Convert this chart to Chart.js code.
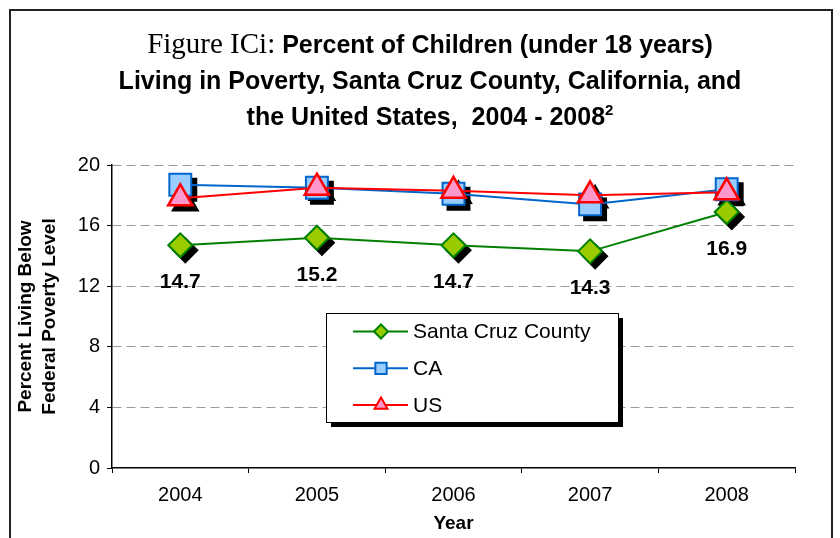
<!DOCTYPE html>
<html lang="en">
<head>
    <meta charset="UTF-8">
    <title>Figure ICi - Children in Poverty</title>
    <script src="https://cdn.jsdelivr.net/npm/chart.js"></script>
    <style>
        body {
            margin: 0;
            background: white;
            font-family: 'Liberation Sans', Arial, sans-serif;
        }
        .wrap {
            position: relative;
            width: 840px;
            height: 538px;
            overflow: hidden;
        }
        .frame {
            position: absolute;
            left: 9px;
            top: 9px;
            width: 820px;
            height: 600px;
            border: 2px solid #222;
            pointer-events: none;
        }
        .title {
            position: absolute;
            left: 20px;
            top: 25px;
            width: 820px;
            text-align: center;
            font-size: 25px;
            font-weight: bold;
            line-height: 36px;
            color: #000;
        }
        .title .serif {
            font-family: 'Liberation Serif', serif;
            font-weight: normal;
            font-size: 29px;
        }
        .title sup {
            font-size: 15px;
            line-height: 0;
            vertical-align: 10px;
        }
        canvas {
            position: absolute;
            left: 0;
            top: 0;
        }
    </style>
</head>
<body>
    <div class="wrap">
        <canvas id="povertyChart" width="840" height="538"></canvas>
        <div class="title">
            <span class="serif">Figure ICi:</span> Percent of Children (under 18 years)<br>
            Living in Poverty, Santa Cruz County, California, and<br>
            the United States,&nbsp; 2004 - 2008<sup>2</sup>
        </div>
        <div class="frame"></div>
    </div>

    <script>
        // data
        const years = ['2004', '2005', '2006', '2007', '2008'];
        const santaCruz = [14.7, 15.2, 14.7, 14.3, 16.9];
        const california = [18.7, 18.5, 18.1, 17.4, 18.4];
        const unitedStates = [17.8, 18.5, 18.3, 18.0, 18.2];
        const yTicks = [0, 4, 8, 12, 16, 20];

        Chart.defaults.font.family = "'Liberation Sans', Arial, sans-serif";
        Chart.defaults.color = '#000';

        // black drop shadows under the markers, drawn before any dataset
        const markerShadows = {
            id: 'markerShadows',
            beforeDatasetsDraw(chart) {
                const ctx = chart.ctx;
                ctx.save();
                chart.data.datasets.forEach((ds, i) => {
                    const meta = chart.getDatasetMeta(i);
                    ctx.fillStyle = '#000';
                    ctx.strokeStyle = '#000';
                    ctx.lineWidth = ds.pointBorderWidth;
                    meta.data.forEach(pt => {
                        Chart.helpers.drawPoint(ctx, {
                            pointStyle: ds.pointStyle,
                            radius: ds.pointRadius,
                            rotation: 0,
                            borderWidth: ds.pointBorderWidth
                        }, pt.x + 5, pt.y + 5);
                    });
                });
                ctx.restore();
            }
        };

        // value labels under the Santa Cruz points
        const valueLabels = {
            id: 'valueLabels',
            afterDatasetsDraw(chart) {
                const ctx = chart.ctx;
                const idx = chart.data.datasets.findIndex(d => d.label === 'Santa Cruz County');
                const meta = chart.getDatasetMeta(idx);
                ctx.save();
                ctx.font = "bold 21px 'Liberation Sans', Arial, sans-serif";
                ctx.fillStyle = '#000';
                ctx.textAlign = 'center';
                ctx.textBaseline = 'middle';
                meta.data.forEach((pt, j) => {
                    ctx.fillText(santaCruz[j].toFixed(1), pt.x, pt.y + 37);
                });
                ctx.restore();
            }
        };

        // boxed legend with shadow inside the plot
        const boxLegend = {
            id: 'boxLegend',
            afterDraw(chart) {
                const ctx = chart.ctx;
                const bx = 326, by = 313, bw = 292, bh = 109;
                ctx.save();
                ctx.fillStyle = '#000';
                ctx.fillRect(bx + 5, by + 5, bw, bh);
                ctx.fillStyle = '#fff';
                ctx.fillRect(bx, by, bw, bh);
                ctx.strokeStyle = '#000';
                ctx.lineWidth = 1;
                ctx.strokeRect(bx + 0.5, by + 0.5, bw, bh);

                const sets = chart.data.datasets.slice().reverse();
                sets.forEach((ds, k) => {
                    const y = 331.5 + k * 36.8;
                    ctx.strokeStyle = ds.borderColor;
                    ctx.lineWidth = 2;
                    ctx.beginPath();
                    ctx.moveTo(353, y);
                    ctx.lineTo(408, y);
                    ctx.stroke();
                    ctx.fillStyle = ds.pointBackgroundColor;
                    ctx.strokeStyle = ds.pointBorderColor;
                    ctx.lineWidth = 2;
                    Chart.helpers.drawPoint(ctx, {
                        pointStyle: ds.pointStyle,
                        radius: ds.legendRadius,
                        rotation: 0,
                        borderWidth: 2
                    }, 381, y);
                    ctx.fillStyle = '#000';
                    ctx.font = "21px 'Liberation Sans', Arial, sans-serif";
                    ctx.textAlign = 'left';
                    ctx.textBaseline = 'middle';
                    ctx.fillText(ds.label, 413, y + 1);
                });
                ctx.restore();
            }
        };

        new Chart(document.getElementById('povertyChart'), {
            type: 'line',
            data: {
                labels: years,
                datasets: [
                    {
                        label: 'US',
                        data: unitedStates,
                        borderColor: '#ff0000',
                        borderWidth: 2,
                        pointStyle: 'triangle',
                        pointRadius: 14,
                        legendRadius: 7.5,
                        pointBackgroundColor: '#ff99cc',
                        pointBorderColor: '#ff0000',
                        pointBorderWidth: 2.5,
                        tension: 0
                    },
                    {
                        label: 'CA',
                        data: california,
                        borderColor: '#0066cc',
                        borderWidth: 2,
                        pointStyle: 'rect',
                        pointRadius: 15.5,
                        legendRadius: 8,
                        pointBackgroundColor: '#99ccff',
                        pointBorderColor: '#0066cc',
                        pointBorderWidth: 2,
                        tension: 0
                    },
                    {
                        label: 'Santa Cruz County',
                        data: santaCruz,
                        borderColor: '#008000',
                        borderWidth: 2,
                        pointStyle: 'rectRot',
                        pointRadius: 12,
                        legendRadius: 7,
                        pointBackgroundColor: '#99cc00',
                        pointBorderColor: '#008000',
                        pointBorderWidth: 2,
                        tension: 0
                    }
                ]
            },
            options: {
                responsive: false,
                animation: false,
                layout: {
                    padding: { top: 165, right: 45, bottom: 0, left: 0 }
                },
                plugins: {
                    legend: { display: false },
                    title: { display: false },
                    tooltip: { enabled: false }
                },
                scales: {
                    x: {
                        offset: true,
                        grid: {
                            offset: true,
                            drawOnChartArea: false,
                            color: '#000',
                            tickColor: '#000',
                            tickLength: 5
                        },
                        border: { color: '#000', width: 1.5 },
                        ticks: {
                            color: '#000',
                            font: { size: 20 },
                            padding: 10
                        },
                        title: {
                            display: true,
                            text: 'Year',
                            color: '#000',
                            font: { size: 19, weight: 'bold' },
                            padding: { top: 0, bottom: 3 }
                        },
                        afterFit(scale) { scale.height = 70; }
                    },
                    y: {
                        min: 0,
                        max: 20,
                        afterBuildTicks(scale) {
                            scale.ticks = yTicks.map(v => ({ value: v }));
                        },
                        grid: {
                            color: c => c.tick && c.tick.value === 0 ? 'rgba(0,0,0,0)' : '#9a9a9a',
                            lineWidth: 1,
                            tickColor: '#000',
                            tickLength: 5,
                            tickBorderDash: []
                        },
                        border: { color: '#000', width: 1.5, dash: [9, 5] },
                        ticks: {
                            color: '#000',
                            font: { size: 20 },
                            padding: 7
                        },
                        title: {
                            display: true,
                            text: ['Percent Living Below', 'Federal Poverty Level'],
                            color: '#000',
                            font: { size: 19, weight: 'bold', lineHeight: 1.26 },
                            padding: { top: 14, bottom: 0 }
                        },
                        afterFit(scale) { scale.width = 112; }
                    }
                }
            },
            plugins: [markerShadows, valueLabels, boxLegend]
        });
    </script>
</body>
</html>
